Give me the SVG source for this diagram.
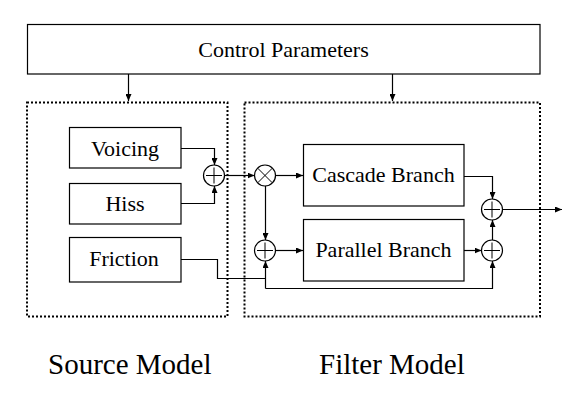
<svg xmlns="http://www.w3.org/2000/svg" width="581" height="400" viewBox="0 0 581 400">
<style>
  .box { fill: #fff; stroke: #000; stroke-width: 1.2; }
  .group { fill: none; stroke: #000; stroke-width: 2; stroke-dasharray: 2 2; }
  .txt { font-family: "Liberation Serif", "Times New Roman", serif; font-size: 22px; fill: #000; text-anchor: middle; }
  .big { font-family: "Liberation Serif", "Times New Roman", serif; font-size: 29px; fill: #000; }
  .op { fill: #fff; stroke: #000; stroke-width: 1.2; }
  .sign { stroke: #000; stroke-width: 1; fill: none; }
  .wire { fill: none; stroke: #000; stroke-width: 1.2; }
  .arr { marker-end: url(#ah); }
</style>
<defs>
  <marker id="ah" markerUnits="userSpaceOnUse" markerWidth="8" markerHeight="6" refX="7" refY="3" orient="auto">
    <path d="M0,0 L7,3 L0,6 Z" fill="#000"/>
  </marker>
</defs>
<rect width="581" height="400" fill="#fff"/>

<g id="source-model">
  <rect class="group" x="27" y="102.5" width="200.5" height="214"/>
  <text class="big" x="48" y="374">Source Model</text>
</g>
<g id="filter-model">
  <rect class="group" x="244.5" y="102.5" width="295.5" height="214"/>
  <text class="big" x="319" y="374">Filter Model</text>
</g>

<g id="control">
  <rect class="box" x="27.5" y="24.5" width="512.5" height="49.5"/>
  <text class="txt" x="283.5" y="57">Control Parameters</text>
</g>
<g id="voicing">
  <rect class="box" x="69.5" y="127.5" width="111.5" height="40.5"/>
  <text class="txt" x="125" y="156">Voicing</text>
</g>
<g id="hiss">
  <rect class="box" x="69.5" y="183.5" width="111.5" height="40.5"/>
  <text class="txt" x="125" y="211">Hiss</text>
</g>
<g id="friction">
  <rect class="box" x="69.5" y="237.5" width="111.5" height="44.5"/>
  <text class="txt" x="124" y="266">Friction</text>
</g>
<g id="cascade">
  <rect class="box" x="303.5" y="144.5" width="160.5" height="61.5"/>
  <text class="txt" x="383.5" y="182">Cascade Branch</text>
</g>
<g id="parallel">
  <rect class="box" x="303.5" y="219.5" width="160.5" height="61.5"/>
  <text class="txt" x="383.5" y="257">Parallel Branch</text>
</g>

<g id="sum-source">
  <circle class="op" cx="214" cy="175.5" r="10.5"/>
  <path class="sign" d="M206,175.5 H222 M214,167.5 V183.5"/>
</g>
<g id="multiply">
  <circle class="op" cx="265" cy="175.5" r="10.5"/>
  <path class="sign" d="M257.6,168.1 L272.4,182.9 M257.6,182.9 L272.4,168.1"/>
</g>
<g id="sum-parallel-in">
  <circle class="op" cx="265" cy="250.5" r="10.5"/>
  <path class="sign" d="M257,250.5 H273 M265,242.5 V258.5"/>
</g>
<g id="sum-parallel-out">
  <circle class="op" cx="492" cy="250.5" r="10.5"/>
  <path class="sign" d="M484,250.5 H500 M492,242.5 V258.5"/>
</g>
<g id="sum-output">
  <circle class="op" cx="492" cy="209.5" r="10.5"/>
  <path class="sign" d="M484,209.5 H500 M492,201.5 V217.5"/>
</g>

<g id="connectors">
  <path class="wire arr" d="M128.5,74 V101"/>
  <path class="wire arr" d="M392.5,74 V101"/>
  <path class="wire arr" d="M181,148.5 H214.5 V165"/>
  <path class="wire arr" d="M181,203.5 H214.5 V186"/>
  <path class="wire arr" d="M224.5,175.5 H254.5"/>
  <path class="wire arr" d="M275.5,175.5 H303"/>
  <path class="wire arr" d="M265.5,186 V240"/>
  <path class="wire arr" d="M275.5,250.5 H303"/>
  <path class="wire" d="M181,259.5 H217.5 V278.5 H265.5"/>
  <path class="wire arr" d="M265.5,288.5 V261"/>
  <path class="wire arr" d="M265.5,288.5 H492.5 V261"/>
  <path class="wire arr" d="M464,176.5 H492.5 V199"/>
  <path class="wire arr" d="M464,250.5 H481.5"/>
  <path class="wire arr" d="M492.5,240 V220"/>
  <path class="wire arr" d="M502.5,209.5 H562"/>
</g>
</svg>
